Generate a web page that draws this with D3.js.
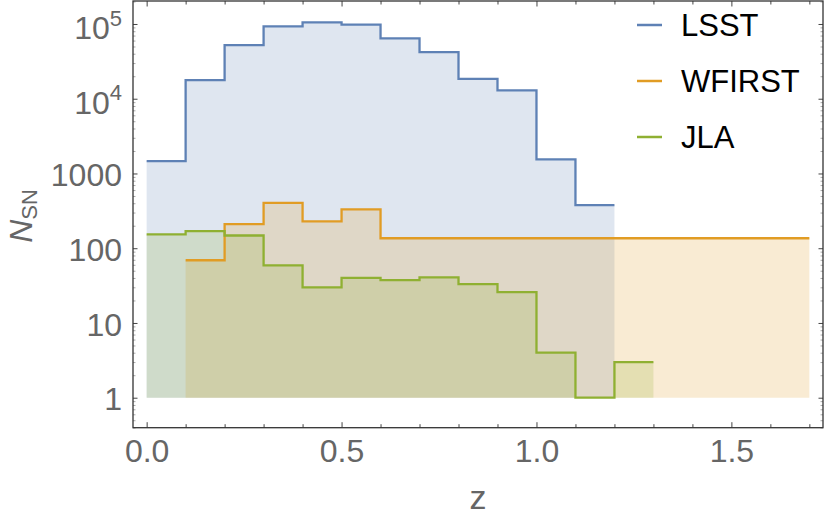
<!DOCTYPE html>
<html>
<head>
<meta charset="utf-8">
<script src="https://cdn.jsdelivr.net/npm/d3@7"></script>
<style>
  body { margin: 0; background: #fff; }
  svg { display: block; font-family: "Liberation Sans", Arial, sans-serif; }
</style>
</head>
<body>
<script>
// bins are 0.1 wide, given by their lower edge
var binWidth = 0.1;

var lsstStart = [0.0, 0.1, 0.2, 0.3, 0.4, 0.5, 0.6, 0.7, 0.8, 0.9, 1.0, 1.1];
var lsstCounts = [1460, 17700, 52000, 93000, 105000, 98000, 64000, 42000, 18400, 12900, 1540, 377];

var wfirstStart = [0.1, 0.2, 0.3, 0.4, 0.5, 0.6, 0.7, 0.8, 0.9, 1.0, 1.1, 1.2, 1.3, 1.4, 1.5, 1.6];
var wfirstCounts = [69, 210, 405, 228, 330, 136, 136, 136, 136, 136, 136, 136, 136, 136, 136, 136];

var jlaStart = [0.0, 0.1, 0.2, 0.3, 0.4, 0.5, 0.6, 0.7, 0.8, 0.9, 1.0, 1.1, 1.2];
var jlaCounts = [153, 169, 148, 59, 30, 40, 37.5, 40.7, 33, 25.9, 4.0, 1, 3];

var seriesNames = ["LSST", "WFIRST", "JLA"];
var seriesColors = ["#5E81B5", "#E19C24", "#8FB032"];

var xMajorTicks = [0, 0.5, 1.0, 1.5];
var yMajorTicks = [1, 10, 100, 1000, 1e4, 1e5];

var W = 830, H = 518;
var margin = { top: 1, right: 7, bottom: 90.3, left: 133 };
var w = W - margin.left - margin.right,
    h = H - margin.top - margin.bottom;

var series = [
  { name: seriesNames[0], color: seriesColors[0], start: lsstStart, counts: lsstCounts },
  { name: seriesNames[1], color: seriesColors[1], start: wfirstStart, counts: wfirstCounts },
  { name: seriesNames[2], color: seriesColors[2], start: jlaStart, counts: jlaCounts }
];

var svg = d3.select("body").append("svg")
  .attr("width", W)
  .attr("height", H);

var g = svg.append("g")
  .attr("transform", "translate(" + margin.left + "," + margin.top + ")");

var xScale = d3.scaleLinear().domain([-0.035, 1.735]).range([0, w]);
var yScale = d3.scaleLog().domain([0.397, 2.03e5]).range([h, 0]);

function stepPoints(s) {
  var pts = s.start.map(function (z, i) { return [z, s.counts[i]]; });
  var last = s.start.length - 1;
  pts.push([s.start[last] + binWidth, s.counts[last]]);
  return pts;
}

var area = d3.area()
  .curve(d3.curveStepAfter)
  .x(function (d) { return xScale(d[0]); })
  .y0(yScale(1))
  .y1(function (d) { return yScale(d[1]); });

var line = d3.line()
  .curve(d3.curveStepAfter)
  .x(function (d) { return xScale(d[0]); })
  .y(function (d) { return yScale(d[1]); });

// fills first, lines on top
series.forEach(function (s) {
  g.append("path")
    .attr("d", area(stepPoints(s)))
    .attr("fill", s.color)
    .attr("fill-opacity", 0.2);
});
series.forEach(function (s) {
  g.append("path")
    .attr("d", line(stepPoints(s)))
    .attr("fill", "none")
    .attr("stroke", s.color)
    .attr("stroke-width", 2.3);
});

// minor tick values
var xMinor = d3.range(0, 18).map(function (i) { return i / 10; })
  .filter(function (v) { return xMajorTicks.indexOf(v) < 0; });
var yMinor = [];
for (var d = -1; d <= 5; d++) {
  for (var k = 2; k <= 9; k++) {
    var v = k * Math.pow(10, d);
    if (v >= 0.397 && v <= 2.03e5) yMinor.push(v);
  }
}

function tickGroup(axis, transform, color) {
  var a = g.append("g").attr("transform", transform).call(axis);
  a.select(".domain").remove();
  a.selectAll("line").attr("stroke", color);
  return a;
}

// bottom
var xb = tickGroup(d3.axisBottom(xScale).tickValues(xMajorTicks).tickSize(-5.5).tickPadding(12)
  .tickFormat(d3.format(".1f")), "translate(0," + h + ")", "#444");
xb.selectAll("text").attr("font-size", 32).attr("fill", "#666");
tickGroup(d3.axisBottom(xScale).tickValues(xMinor).tickSize(-3.5).tickFormat(""),
  "translate(0," + h + ")", "#444");
// top
tickGroup(d3.axisTop(xScale).tickValues(xMajorTicks).tickSize(-5.5).tickFormat(""), "translate(0,0)", "#444");
tickGroup(d3.axisTop(xScale).tickValues(xMinor).tickSize(-3.5).tickFormat(""), "translate(0,0)", "#444");

// left
var yl = tickGroup(d3.axisLeft(yScale).tickValues(yMajorTicks).tickSize(-4.5).tickPadding(11)
  .tickFormat(d3.format("d")), "translate(0,0)", "#444");
yl.selectAll("text")
  .attr("font-size", 32)
  .attr("fill", "#666")
  .attr("dy", "0.38em")
  .each(function (v) {
    if (v >= 1e4) {
      var t = d3.select(this).text("").attr("dy", "0.45em");
      t.append("tspan").text("10");
      t.append("tspan").attr("font-size", 22).attr("dy", "-0.6em").text(Math.round(Math.log10(v)));
    }
  });
tickGroup(d3.axisLeft(yScale).tickValues(yMinor).tickSize(-2.5).tickFormat(""), "translate(0,0)", "#aaa");
// right
tickGroup(d3.axisRight(yScale).tickValues(yMajorTicks).tickSize(-4.5).tickFormat(""), "translate(" + w + ",0)", "#444");
tickGroup(d3.axisRight(yScale).tickValues(yMinor).tickSize(-2.5).tickFormat(""), "translate(" + w + ",0)", "#aaa");

// frame
g.append("rect")
  .attr("x", 0).attr("y", 0)
  .attr("width", w).attr("height", h)
  .attr("fill", "none")
  .attr("stroke", "#333")
  .attr("stroke-width", 1.3);

// axis labels
g.append("text")
  .attr("x", w / 2)
  .attr("y", 509 - margin.top)
  .attr("text-anchor", "middle")
  .attr("font-size", 34)
  .attr("fill", "#666")
  .text("z");

var yLab = svg.append("text")
  .attr("transform", "translate(32,216) rotate(-90)")
  .attr("text-anchor", "middle")
  .attr("font-size", 32)
  .attr("fill", "#666");
yLab.append("tspan").attr("font-style", "italic").text("N");
yLab.append("tspan").attr("font-size", 22).attr("dy", 5).text("SN");

// legend
var legend = svg.append("g").attr("transform", "translate(637,25)");
series.forEach(function (s, i) {
  var row = legend.append("g").attr("transform", "translate(0," + i * 56 + ")");
  row.append("line")
    .attr("x1", 0).attr("x2", 25)
    .attr("stroke", s.color)
    .attr("stroke-width", 2.5);
  row.append("text")
    .attr("x", 44)
    .attr("y", 11)
    .attr("font-size", 31)
    .attr("fill", "#000")
    .text(s.name);
});
</script>
</body>
</html>
